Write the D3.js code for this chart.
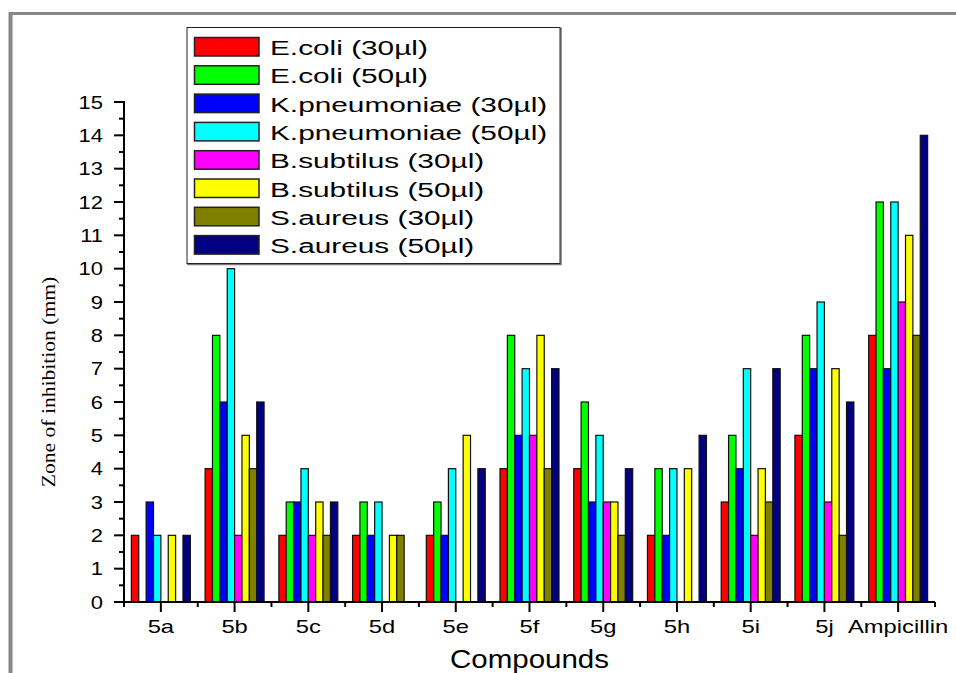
<!DOCTYPE html>
<html>
<head>
<meta charset="utf-8">
<script src="https://cdn.jsdelivr.net/npm/d3@7"></script>
<style>
  body { margin: 0; background: #fff; }
  svg { display: block; }
  .sans { font-family: "Liberation Sans", Arial, sans-serif; fill: #000; }
</style>
</head>
<body>
<div id="chart"></div>
<script>
/* grouped bar chart - zone of inhibition per compound */

const compounds = ["5a", "5b", "5c", "5d", "5e", "5f", "5g", "5h", "5i", "5j", "Ampicillin"];

const seriesNames = ["E.coli (30µl)", "E.coli (50µl)", "K.pneumoniae (30µl)", "K.pneumoniae (50µl)",
    "B.subtilus (30µl)", "B.subtilus (50µl)", "S.aureus (30µl)", "S.aureus (50µl)"];

// one array per series, values in the order of compounds
const ecoli30 = [2, 4, 2, 2, 2, 4, 4, 2, 3, 5, 8];
const ecoli50 = [0, 8, 3, 3, 3, 8, 6, 4, 5, 8, 12];
const kpneu30 = [3, 6, 3, 2, 2, 5, 3, 2, 4, 7, 7];
const kpneu50 = [2, 10, 4, 3, 4, 7, 5, 4, 7, 9, 12];
const bsub30 = [0, 2, 2, 0, 0, 5, 3, 0, 2, 3, 9];
const bsub50 = [2, 5, 3, 2, 5, 8, 3, 4, 4, 7, 11];
const saur30 = [0, 4, 2, 2, 0, 4, 2, 0, 3, 2, 8];
const saur50 = [2, 6, 3, 0, 4, 7, 4, 5, 7, 6, 14];

const yTicks = d3.range(0, 16);

const colors = ["#ff0000", "#00ff00", "#0000ff", "#00ffff", "#ff00ff", "#ffff00", "#808000", "#000080"];

const allSeries = [ecoli30, ecoli50, kpneu30, kpneu50, bsub30, bsub50, saur30, saur50];

const width = 956,
    height = 673,
    margin = ({ top: 102, right: 21, bottom: 72, left: 124 });

const svg = d3.select("#chart")
    .append("svg")
    .attr("width", width)
    .attr("height", height);

// grey frame left over from the figure (top + left only)
svg.append("line").attr("x1", 9).attr("x2", width).attr("y1", 13.5).attr("y2", 13.5)
    .attr("stroke", "#888").attr("stroke-width", 3);
svg.append("line").attr("x1", 10.5).attr("x2", 10.5).attr("y1", 12).attr("y2", height)
    .attr("stroke", "#888").attr("stroke-width", 4);

let x = d3.scaleBand()
    .domain(compounds)
    .range([margin.left, width - margin.right])
    .padding(0);

let x1 = d3.scaleBand()
    .domain(d3.range(seriesNames.length))
    .range([x.bandwidth() * 0.1, x.bandwidth() * 0.9]);

let y = d3.scaleLinear()
    .domain([0, 15])
    .range([height - margin.bottom + 1, margin.top]);

// flatten to rows for drawing
let rows = [];
compounds.forEach((c, i) => {
    allSeries.forEach((s, k) => {
        rows.push({ compound: c, k: k, value: s[i] });
    });
});

svg.append("g")
    .selectAll("rect")
    .data(rows.filter(d => d.value > 0))
    .join("rect")
    .attr("x", d => x(d.compound) + x1(d.k))
    .attr("y", d => y(d.value))
    .attr("width", x1.bandwidth())
    .attr("height", d => y(0) - y(d.value))
    .attr("fill", d => colors[d.k])
    .attr("stroke", "#111")
    .attr("stroke-width", 1.2);

// axes
const y0 = y(0);
svg.append("line")
    .attr("x1", margin.left).attr("x2", width - margin.right)
    .attr("y1", y0).attr("y2", y0)
    .attr("stroke", "#000").attr("stroke-width", 2);
svg.append("line")
    .attr("x1", margin.left).attr("x2", margin.left)
    .attr("y1", y(15) - 1).attr("y2", y0 + 1)
    .attr("stroke", "#000").attr("stroke-width", 2);

// x ticks: major at centres, minor at band edges
svg.append("g").selectAll("line.maj")
    .data(compounds).join("line")
    .attr("x1", d => x(d) + x.bandwidth() / 2).attr("x2", d => x(d) + x.bandwidth() / 2)
    .attr("y1", y0).attr("y2", y0 + 10)
    .attr("stroke", "#000").attr("stroke-width", 2);
svg.append("g").selectAll("line")
    .data(compounds.map(d => x(d)).concat([width - margin.right])).join("line")
    .attr("x1", d => d).attr("x2", d => d)
    .attr("y1", y0).attr("y2", y0 + 5)
    .attr("stroke", "#000").attr("stroke-width", 2);

svg.append("g").selectAll("text")
    .data(compounds).join("text")
    .attr("class", "sans stretch")
    .attr("data-k", 1.25)
    .attr("x", d => x(d) + x.bandwidth() / 2)
    .attr("y", 633)
    .attr("text-anchor", "middle")
    .attr("font-size", 19)
    .text(d => d);

// y ticks
svg.append("g").selectAll("line")
    .data(yTicks).join("line")
    .attr("x1", margin.left - 10).attr("x2", margin.left)
    .attr("y1", d => y(d)).attr("y2", d => y(d))
    .attr("stroke", "#000").attr("stroke-width", 2);
svg.append("g").selectAll("line")
    .data(yTicks.slice(0, -1).map(d => d + 0.5)).join("line")
    .attr("x1", margin.left - 5).attr("x2", margin.left)
    .attr("y1", d => y(d)).attr("y2", d => y(d))
    .attr("stroke", "#000").attr("stroke-width", 2);
svg.append("g").selectAll("text")
    .data(yTicks).join("text")
    .attr("class", "sans stretch")
    .attr("data-k", 1.22)
    .attr("x", 103)
    .attr("y", d => y(d) + 6.5)
    .attr("text-anchor", "end")
    .attr("font-size", 18)
    .text(d => d);

// axis titles
svg.append("text")
    .attr("class", "sans stretch")
    .attr("data-k", 1.18)
    .attr("x", (margin.left + width - margin.right) / 2)
    .attr("y", 668)
    .attr("text-anchor", "middle")
    .attr("font-size", 25)
    .text("Compounds");

svg.append("text")
    .attr("class", "stretch")
    .attr("data-k", 1.2)
    .attr("data-rot", -90)
    .attr("x", 55)
    .attr("y", 382)
    .attr("text-anchor", "middle")
    .attr("font-family", "'Liberation Serif', 'Times New Roman', serif")
    .attr("font-size", 18)
    .text("Zone of inhibition (mm)");

// legend
const lg = svg.append("g");
lg.append("rect")
    .attr("x", 188).attr("y", 28.5).attr("width", 373).attr("height", 236)
    .attr("fill", "none").attr("stroke", "#777").attr("stroke-width", 1.5);
lg.append("rect")
    .attr("x", 187).attr("y", 27.5).attr("width", 373).attr("height", 236)
    .attr("fill", "#fff").attr("stroke", "#222").attr("stroke-width", 1);

const item = lg.selectAll("g.item")
    .data(seriesNames).join("g")
    .attr("transform", (d, i) => `translate(0,${i * 28.3})`);
item.append("rect")
    .attr("x", 194.5).attr("y", 37.5).attr("width", 64.5).attr("height", 18.5)
    .attr("fill", (d, i) => colors[i])
    .attr("stroke", "#222").attr("stroke-width", 1.5);
item.append("text")
    .attr("class", "sans stretch")
    .attr("data-k", 1.42)
    .attr("x", 270).attr("y", 55)
    .attr("font-size", 21)
    .text(d => d);

// the figure's lettering is wider than Arial - scale glyphs along the text direction
svg.selectAll("text.stretch").each(function () {
    const k = +this.getAttribute("data-k");
    const rot = +(this.getAttribute("data-rot") || 0);
    const tx = +this.getAttribute("x"), ty = +this.getAttribute("y");
    d3.select(this)
        .attr("x", 0).attr("y", 0)
        .attr("transform", `translate(${tx},${ty}) rotate(${rot}) scale(${k},1)`);
});
</script>
</body>
</html>
